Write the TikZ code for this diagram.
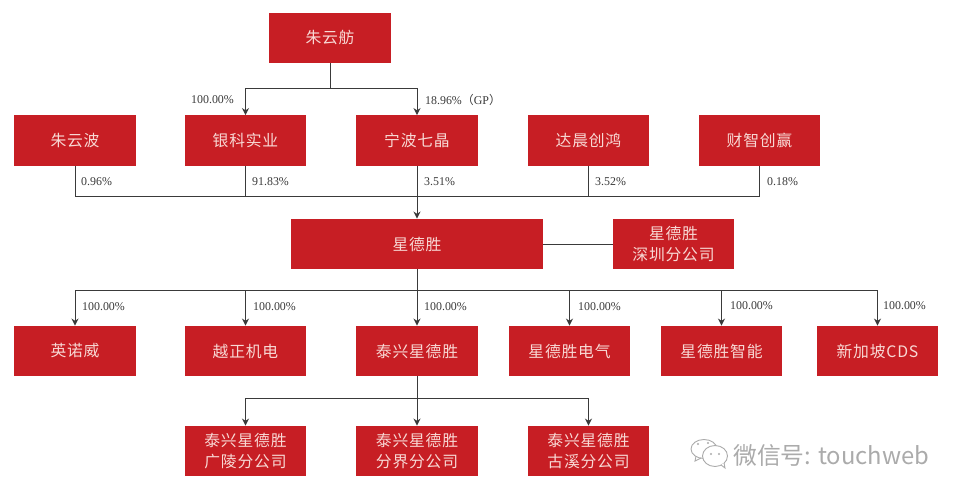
\documentclass[tikz,border=0pt]{standalone}
\usepackage{fontspec}
\setmainfont{Liberation Serif}
\newfontfamily\cjk{Noto Sans CJK SC}
\newfontfamily\cjkspaced[LetterSpace=5]{Noto Sans CJK SC}
\usetikzlibrary{arrows.meta}
\definecolor{boxred}{HTML}{C71E24}
\definecolor{boxtext}{HTML}{F8D8D4}
\definecolor{wire}{HTML}{3A3A3A}
\definecolor{wmgray}{HTML}{ABABAB}
\tikzset{
  rbox/.style={fill=boxred,text=boxtext,minimum width=121.5pt,minimum height=50.5pt,inner sep=0pt,align=center,
    execute at begin node={\vspace*{6pt}},
    font=\cjkspaced\fontsize{15.8}{20.5}\selectfont},
  lbl/.style={text=wire,inner sep=0pt,font=\fontsize{11.9}{13}\selectfont},
  wirel/.style={draw=wire,line width=1pt},
  arr/.style={wirel,-{Stealth[length=7pt,width=7pt]}},
  wmline/.style={draw=wmgray,line width=0.9pt},
}
\begin{document}
\begin{tikzpicture}[x=1pt,y=-1pt]
\useasboundingbox[fill=white] (0,0) rectangle (960,497);
% boxes
\node[rbox] (top) at (330,38) {朱云舫};
\node[rbox] (zyb) at (75,140.5) {朱云波};
\node[rbox] (yk) at (245.5,140.5) {银科实业};
\node[rbox] (nb) at (417,140.5) {宁波七晶};
\node[rbox] (dc) at (588.5,140.5) {达晨创鸿};
\node[rbox] (cz) at (759.5,140.5) {财智创赢};
\node[rbox,minimum width=252pt] (xds) at (417,244) {星德胜};
\node[rbox] (sz) at (673.5,244) {星德胜\\深圳分公司};
\node[rbox] (ynw) at (75,351) {英诺威};
\node[rbox] (yz) at (245.5,351) {越正机电};
\node[rbox] (tx) at (417,351) {泰兴星德胜};
\node[rbox] (dq) at (569.5,351) {星德胜电气};
\node[rbox] (zn) at (721.5,351) {星德胜智能};
\node[rbox] (sg) at (877.5,351) {新加坡CDS};
\node[rbox] (gl) at (245.5,451) {泰兴星德胜\\广陵分公司};
\node[rbox] (fj) at (417,451) {泰兴星德胜\\分界分公司};
\node[rbox] (gx) at (588.5,451) {泰兴星德胜\\古溪分公司};
% junctions
\coordinate (j1) at (330,89);
\coordinate (j2) at (417,196);
\coordinate (j3) at (417,290);
\coordinate (j4) at (417,398);
% connectors
\draw[wirel] (top.south) -- (j1);
\draw[arr] (j1) -| (yk.north);
\draw[arr] (j1) -| (nb.north);
\draw[wirel] (zyb.south) |- (j2);
\draw[wirel] (yk.south) |- (j2);
\draw[wirel] (dc.south) |- (j2);
\draw[wirel] (cz.south) |- (j2);
\draw[arr] (nb.south) -- (xds.north);
\draw[wirel] (xds.east) -- (sz.west);
\draw[arr] (xds.south) -- (tx.north);
\draw[arr] (j3) -| (ynw.north);
\draw[arr] (j3) -| (yz.north);
\draw[arr] (j3) -| (dq.north);
\draw[arr] (j3) -| (zn.north);
\draw[arr] (j3) -| (sg.north);
\draw[arr] (tx.south) -- (fj.north);
\draw[arr] (j4) -| (gl.north);
\draw[arr] (j4) -| (gx.north);
% labels
\node[lbl,anchor=west] (l1) at (191,99.5) {100.00\%};
\node[lbl,anchor=west] (l2) at (425,99.5) {18.96\%{\cjk（}GP{\cjk）}};
\node[lbl,anchor=west] (l3) at (81,181.5) {0.96\%};
\node[lbl,anchor=west] (l4) at (252,181.5) {91.83\%};
\node[lbl,anchor=west] (l5) at (424,181.5) {3.51\%};
\node[lbl,anchor=west] (l6) at (595,181.5) {3.52\%};
\node[lbl,anchor=west] (l7) at (767,181.5) {0.18\%};
\node[lbl,anchor=west] (l8) at (82,306.5) {100.00\%};
\node[lbl,anchor=west] (l9) at (253,306.5) {100.00\%};
\node[lbl,anchor=west] (l10) at (424,306.5) {100.00\%};
\node[lbl,anchor=west] (l11) at (578,306.5) {100.00\%};
\node[lbl,anchor=west] (l12) at (730,306) {100.00\%};
\node[lbl,anchor=west] (l13) at (883,306) {100.00\%};
% watermark
\draw[wmline,fill=white] (704,449) ellipse (13 and 9.5);
\draw[wmline] (696,456) -- (695,461) -- (701,458);
\draw[wmline,fill=white] (715,456) ellipse (12.5 and 10.5);
\draw[wmline,fill=white] (721,465) -- (725,468) -- (724,463);
\fill[wmgray] (711,454) circle (1.2) (719,454) circle (1.2) (698,444) circle (1.1) (708,443) circle (1.1);
\node[anchor=west,inner sep=0pt,text=wmgray,font=\cjk\fontsize{23.8}{26}\selectfont] (wm) at (733,455) {微信号: touchweb};
\end{tikzpicture}
\end{document}
